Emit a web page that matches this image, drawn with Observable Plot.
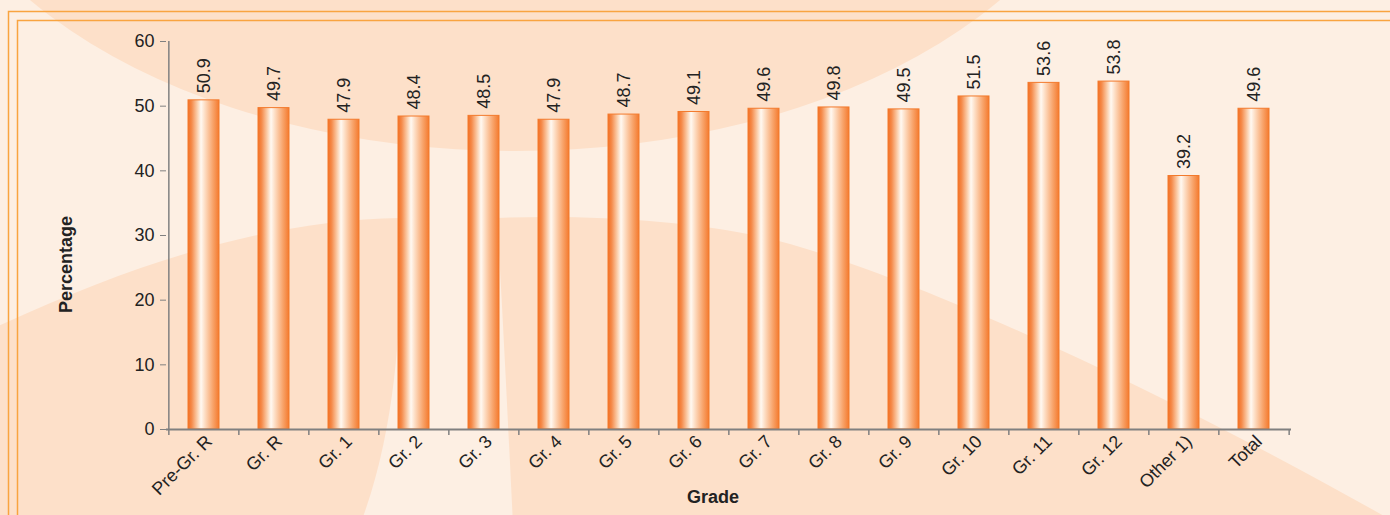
<!DOCTYPE html>
<html><head><meta charset="utf-8">
<script src="https://cdn.jsdelivr.net/npm/d3@7"></script>
<script src="https://cdn.jsdelivr.net/npm/@observablehq/plot@0.6"></script>
<style>
body{margin:0;background:#fdefe3;}
#wrap{position:relative;width:1390px;height:515px;overflow:hidden;}
#bg{position:absolute;left:0;top:0;}
#chart{position:absolute;left:0;top:0;}
</style></head><body>
<div id="wrap">
<svg id="bg" width="1390" height="515" xmlns="http://www.w3.org/2000/svg">
 <rect width="1390" height="515" fill="#fdefe3"/>
 <ellipse cx="515" cy="-216" rx="600" ry="367" fill="#fde0c9"/>
 <path d="M-10,330 C150,255 280,220 400,218 C402,300 400,420 360,525 L-10,525 Z" fill="#fde0c9"/>
 <path d="M497,218 C600,214 720,222 800,247 C950,292 1180,400 1400,525 L513,525 C508,420 502,300 497,218 Z" fill="#fde0c9"/>
 <rect x="8.5" y="11.5" width="1600" height="1000" fill="none" stroke="#f9a440" stroke-width="1.5"/>
 <rect x="17.5" y="20.5" width="1600" height="1000" fill="none" stroke="#f9a440" stroke-width="1.5"/>
</svg>
<div id="chart"></div>
</div>
<script>
const categories = ["Pre-Gr. R","Gr. R","Gr. 1","Gr. 2","Gr. 3","Gr. 4","Gr. 5","Gr. 6","Gr. 7","Gr. 8","Gr. 9","Gr. 10","Gr. 11","Gr. 12","Other 1)","Total"];
const values = [50.9,49.7,47.9,48.4,48.5,47.9,48.7,49.1,49.6,49.8,49.5,51.5,53.6,53.8,39.2,49.6];
const yTicks = [0,10,20,30,40,50,60];
const yTitle = "Percentage";
const xTitle = "Grade";

const W=1390,H=515,ML=166,MR=99,MT=41,MB=86;
const step=(W-ML-MR)/categories.length;
const data = categories.map((c,i)=>({grade:c,value:values[i]}));
const axisColor = "#808080";
const plot = Plot.plot({
  width:W,height:H,marginLeft:ML,marginRight:MR,marginTop:MT,marginBottom:MB,
  style:{background:"transparent",fontFamily:"'Liberation Sans', Arial, sans-serif",fontSize:"18px",color:"#222"},
  x:{domain:categories,paddingInner:0.56,paddingOuter:0.28,align:0.5},
  y:{domain:[0,60]},
  marks:[
    Plot.barY(data,{x:"grade",y:"value",fill:"url(#barGrad)",stroke:"#f37a2c",strokeWidth:1}),
    Plot.text(data,{x:"grade",y:"value",text:d=>d.value.toFixed(1),rotate:-90,textAnchor:"start",lineAnchor:"middle",dy:-7,fill:"#222"}),
    Plot.ruleY([0],{stroke:axisColor,strokeWidth:2}),
    Plot.ruleX(categories,{x:d=>d,y1:0,y2:0,insetBottom:-6,dx:-step/2,stroke:axisColor,strokeWidth:1.5}),
    Plot.ruleX([categories[categories.length-1]],{x:d=>d,y1:0,y2:0,insetBottom:-6,dx:step/2,stroke:axisColor,strokeWidth:1.5}),
    Plot.ruleX([categories[0]],{x:d=>d,y1:0,y2:60,dx:-step/2,stroke:axisColor,strokeWidth:1.5}),
    Plot.axisY({ticks:yTicks,tickSize:6,tickPadding:6,label:null,stroke:axisColor}),
    Plot.axisX({tickSize:0,tickRotate:-45,tickPadding:9,dx:5,label:null}),
    Plot.text([yTitle],{text:d=>d,frameAnchor:"left",dx:-100,dy:29,rotate:-90,textAnchor:"middle",lineAnchor:"middle",fontWeight:"bold",fontSize:18,fill:"#222"}),
    Plot.text([xTitle],{text:d=>d,frameAnchor:"bottom",dx:-16,dy:68,textAnchor:"middle",lineAnchor:"middle",fontWeight:"bold",fontSize:18,fill:"#222"})
  ]
});
const svg = d3.select(plot);
const defs = svg.insert("defs",":first-child");
const grad = defs.append("linearGradient").attr("id","barGrad").attr("x1",0).attr("x2",1).attr("y1",0).attr("y2",0);
[["0%","#f26e22"],["12%","#f58b4b"],["30%","#fbcfac"],["42%","#fff9f2"],["55%","#fddcc2"],["80%","#f8a46b"],["100%","#f47a2e"]]
  .forEach(([o,c])=>grad.append("stop").attr("offset",o).attr("stop-color",c));
document.getElementById("chart").appendChild(plot);
</script>
</body></html>
